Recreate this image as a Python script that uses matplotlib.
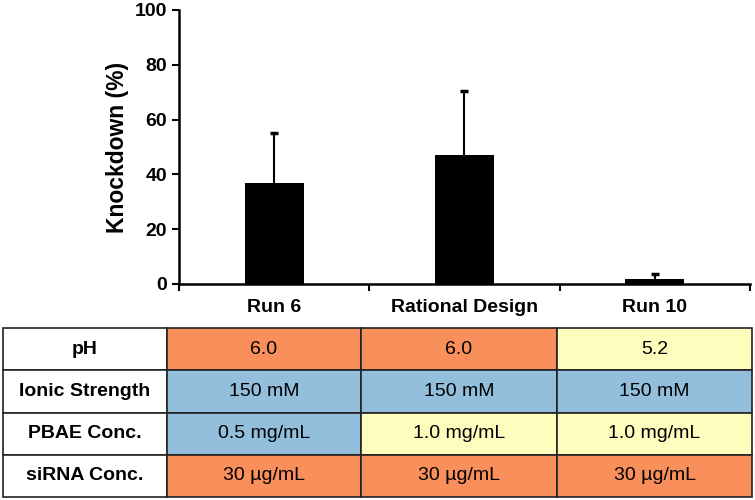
import matplotlib
matplotlib.use("Agg")
import matplotlib.pyplot as plt

plt.rcParams["font.family"] = ["Liberation Sans", "DejaVu Sans"]

# ── Datos ─────────────────────────────────────────────────────────────────────
grupos = ["Run 6", "Rational Design", "Run 10"]
knockdown = [36.9, 47.1, 2.0]
error_sup = [18.2, 23.4, 1.6]

filas = ["pH", "Ionic Strength", "PBAE Conc.", "siRNA Conc."]
valores = [
    ["6.0", "6.0", "5.2"],
    ["150 mM", "150 mM", "150 mM"],
    ["0.5 mg/mL", "1.0 mg/mL", "1.0 mg/mL"],
    ["30 µg/mL", "30 µg/mL", "30 µg/mL"],
]
niveles = [
    ["alto", "alto", "bajo"],
    ["medio", "medio", "medio"],
    ["medio", "bajo", "bajo"],
    ["alto", "alto", "alto"],
]
colores_nivel = {"alto": "#F98F5A", "medio": "#93BFDD", "bajo": "#FFFDBE"}

W, H = 755, 500
fig = plt.figure(figsize=(W / 100, H / 100), dpi=100)

# ── Barras ────────────────────────────────────────────────────────────────────
ax = fig.add_axes([179 / W, 1 - 284 / H, (750 - 179) / W, (284 - 10) / H])
x = list(range(len(grupos)))
ax.bar(x, knockdown, width=0.31, color="black", zorder=2)
_, caps, _ = ax.errorbar(x, knockdown, yerr=[[0] * len(x), error_sup], fmt="none",
                         ecolor="black", elinewidth=1.5, capsize=3, capthick=2.5,
                         zorder=1)
caps[0].set_visible(False)  # solo barra superior

ax.set_xlim(-0.5, 2.5)
ax.set_ylim(0, 100)
ax.set_yticks([0, 20, 40, 60, 80, 100])
ax.set_ylabel("Knockdown (%)", fontsize=16.5, fontweight="bold", labelpad=4)

ax.set_xticks([-0.5, 0.5, 1.5, 2.5])
ax.set_xticklabels([])
ax.set_xticks(x, minor=True)
ax.set_xticklabels(grupos, minor=True, fontsize=14, fontweight="bold")
ax.tick_params(axis="x", which="major", direction="out", length=5, width=1.5)
ax.tick_params(axis="x", which="minor", length=0, pad=11)
ax.tick_params(axis="y", direction="out", length=5, width=1.5, labelsize=14)
for lab in ax.get_yticklabels():
    lab.set_fontweight("bold")

for s in ["top", "right"]:
    ax.spines[s].set_visible(False)
for s in ["left", "bottom"]:
    ax.spines[s].set_linewidth(1.8)

# ── Tabla de condiciones ──────────────────────────────────────────────────────
axt = fig.add_axes([3 / W, 1 - 497 / H, (752 - 3) / W, (497 - 328) / H])
axt.axis("off")
texto = [[f] + v for f, v in zip(filas, valores)]
colores = [["white"] + [colores_nivel[n] for n in fila] for fila in niveles]
anchos = [164, 194, 196, 195]
tot = sum(anchos)
tabla = axt.table(cellText=texto, cellColours=colores, cellLoc="center",
                  colWidths=[a / tot for a in anchos], bbox=[0, 0, 1, 1])
tabla.auto_set_font_size(False)
for (r, c), celda in tabla.get_celld().items():
    celda.set_linewidth(1.2)
    celda.set_edgecolor("#222222")
    celda.get_text().set_fontsize(14)
    if c == 0:
        celda.get_text().set_fontweight("bold")

fig.savefig("out.png", dpi=100)
